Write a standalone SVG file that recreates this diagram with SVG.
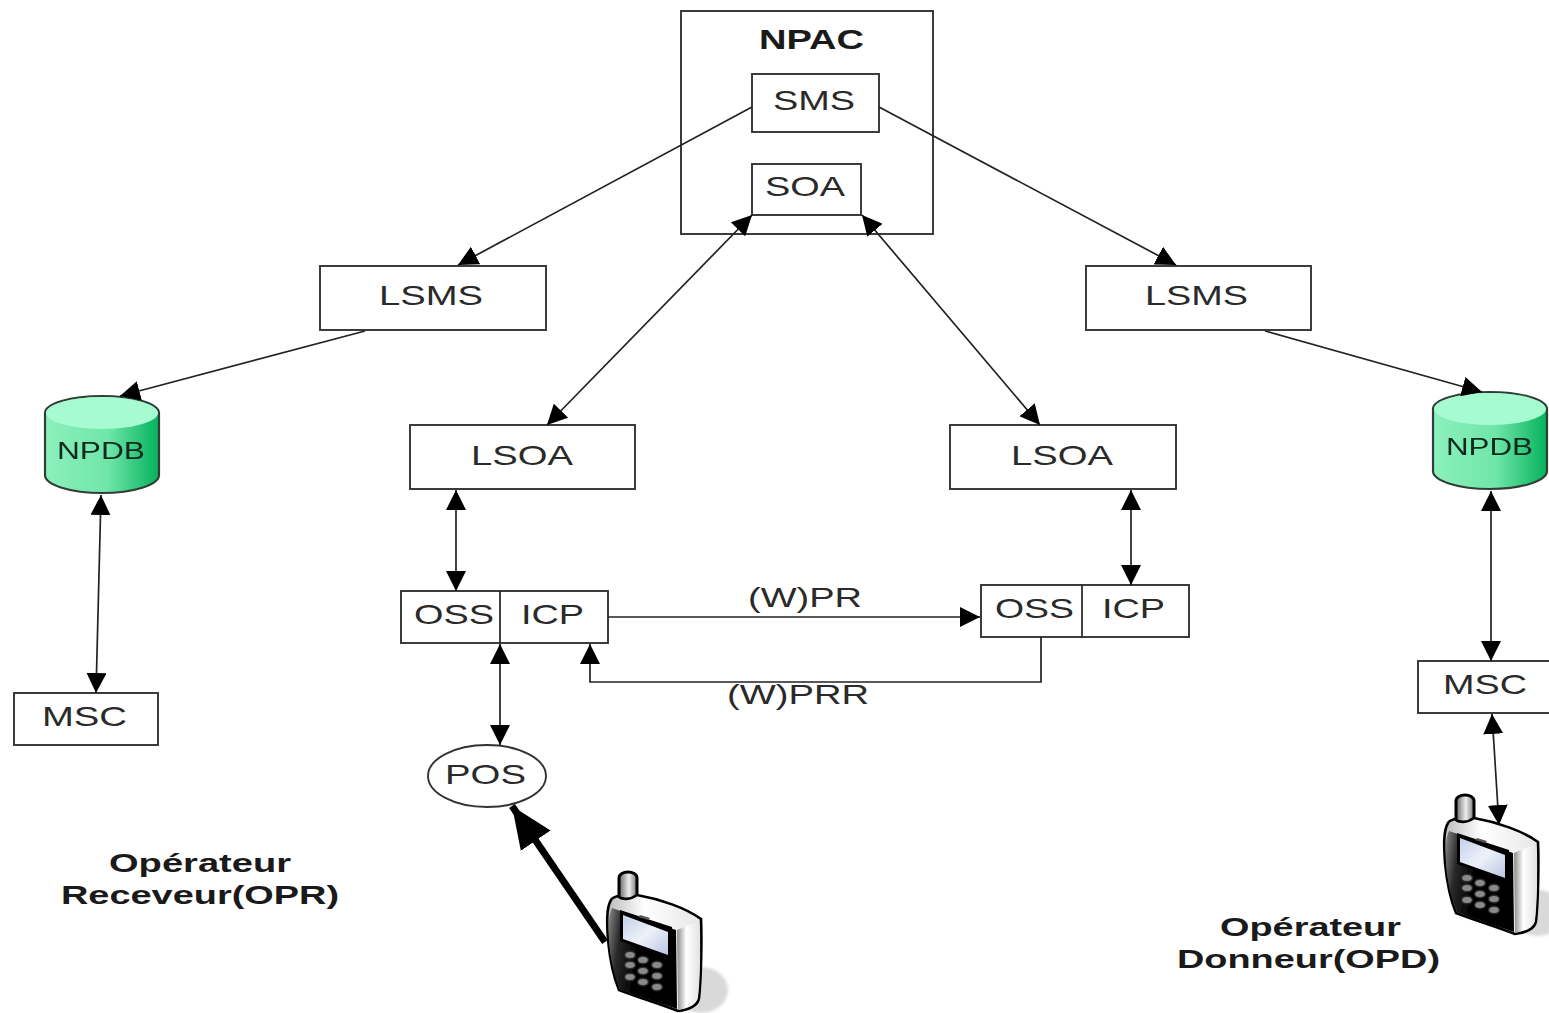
<svg xmlns="http://www.w3.org/2000/svg" width="1549" height="1013" viewBox="0 0 1549 1013">
<style>
.box{fill:#fff;stroke:#333;stroke-width:1.9}
.t{font-family:"Liberation Sans",Arial,sans-serif;font-size:28px;fill:#2a2a2a}
.b{font-family:"Liberation Sans",Arial,sans-serif;font-size:26px;font-weight:bold;fill:#1a1a1a}
.db{font-family:"Liberation Sans",Arial,sans-serif;font-size:24px;fill:#0c2a1c}
.c{fill:none;stroke:#222;stroke-width:1.7}
.cy{stroke:#333d38;stroke-width:2.2}
.soft{filter:url(#soft)}
</style>
<defs>
<filter id="soft" x="-5%" y="-5%" width="110%" height="110%"><feGaussianBlur stdDeviation="0.6"/></filter>
<filter id="shadow" x="-20%" y="-20%" width="140%" height="140%"><feGaussianBlur stdDeviation="1.5"/></filter>
<marker id="a" markerUnits="userSpaceOnUse" markerWidth="22" markerHeight="20" refX="20" refY="10" orient="auto-start-reverse"><path d="M0 0L20 10L0 20Z" fill="#000"/></marker>
<marker id="big" markerUnits="userSpaceOnUse" markerWidth="44" markerHeight="38" refX="42" refY="19" orient="auto"><path d="M0 1L42 19L0 37Z" fill="#000"/></marker>
<linearGradient id="green" x1="0" x2="1" y1="0" y2="0"><stop offset="0" stop-color="#8cf0bd"/><stop offset=".55" stop-color="#70e6a9"/><stop offset="1" stop-color="#05b25c"/></linearGradient>
<linearGradient id="body" x1="0" x2="1" y1="0" y2=".2"><stop offset="0" stop-color="#8a8a8a"/><stop offset=".2" stop-color="#2a2a2a"/><stop offset=".5" stop-color="#000"/><stop offset="1" stop-color="#000"/></linearGradient>
<linearGradient id="side" x1="0" x2="1" y1="0" y2="0"><stop offset="0" stop-color="#8a8a8a"/><stop offset=".4" stop-color="#fff"/><stop offset="1" stop-color="#e2e2e2"/></linearGradient>
<linearGradient id="top" x1="0" x2="1" y1="0" y2="0"><stop offset="0" stop-color="#bbb"/><stop offset=".4" stop-color="#fff"/><stop offset="1" stop-color="#e6e6e6"/></linearGradient>
<linearGradient id="ant" x1="0" x2="1" y1="0" y2="0"><stop offset="0" stop-color="#666"/><stop offset=".55" stop-color="#eee"/><stop offset="1" stop-color="#777"/></linearGradient>
<linearGradient id="scr" x1="0" x2="1" y1="0" y2="1"><stop offset="0" stop-color="#c4d0ea"/><stop offset=".5" stop-color="#eef1f8"/><stop offset="1" stop-color="#b9c6e2"/></linearGradient>
<symbol id="phone" overflow="visible" viewBox="0 0 1549 1013" width="1549" height="1013">
<ellipse cx="701" cy="990" rx="27" ry="23" fill="#d9d9d9" filter="url(#shadow)"/>
<g class="soft">
<path d="M619 878C619 870 637 870 637 878V902H619Z" fill="url(#ant)" stroke="#000" stroke-width="3"/>
<path d="M611 900C606 908 607 925 608 940C610 960 614 978 619 990C640 998 660 1004 678 1011C688 1010 698 1006 699 998C701 980 702 940 701 919C686 908 660 899 637 895C630 900 622 900 618 896C614 897 612 898 611 900Z" fill="url(#top)" stroke="#000" stroke-width="2.6"/>
<path d="M612 908L676 930L677 1009C660 1003 640 997 620 989C614 975 610 958 609 940C608 925 609 914 612 908Z" fill="url(#body)"/>
<path d="M677 930L699 921C701 945 700 980 698 997C697 1004 688 1008 678 1010Z" fill="url(#side)"/>
<path d="M620 910L672 927V958L620 941Z" fill="#000"/>
<path d="M623 915L668 932V955L623 939Z" fill="url(#scr)"/>
<path d="M640 915L650 918L648 920L638 917Z" fill="#555"/>
<g fill="#8a8a8a" stroke="#2a2a2a" stroke-width="1.5">
<ellipse cx="630" cy="955" rx="5.5" ry="3.8"/><ellipse cx="643" cy="960" rx="5.5" ry="3.8"/><ellipse cx="657" cy="965" rx="5.5" ry="3.8"/>
<ellipse cx="630" cy="965" rx="5.5" ry="3.8"/><ellipse cx="643" cy="971" rx="5.5" ry="3.8"/><ellipse cx="657" cy="976" rx="5.5" ry="3.8"/>
<ellipse cx="630" cy="977" rx="5.5" ry="3.8"/><ellipse cx="643" cy="982" rx="5.5" ry="3.8"/><ellipse cx="657" cy="987" rx="5.5" ry="3.8"/>
</g>
</g>
</symbol>
</defs>
<rect width="1549" height="1013" fill="#fff"/>
<g id="npac"><rect class="box" x="681" y="11" width="252" height="223"/><text class="b" x="759" y="49" textLength="105" lengthAdjust="spacingAndGlyphs" style="font-size:28px">NPAC</text></g>
<g id="sms"><rect class="box" x="752" y="74" width="127" height="58"/><text class="t" x="773" y="110" textLength="82" lengthAdjust="spacingAndGlyphs">SMS</text></g>
<g id="soa"><rect class="box" x="752" y="164" width="109" height="51"/><text class="t" x="765" y="196" textLength="80" lengthAdjust="spacingAndGlyphs">SOA</text></g>
<g id="lsms-left"><rect class="box" x="320" y="266" width="226" height="64"/><text class="t" x="379" y="305" textLength="104" lengthAdjust="spacingAndGlyphs">LSMS</text></g>
<g id="lsms-right"><rect class="box" x="1086" y="266" width="225" height="64"/><text class="t" x="1145" y="305" textLength="103" lengthAdjust="spacingAndGlyphs">LSMS</text></g>
<g id="lsoa-left"><rect class="box" x="410" y="425" width="225" height="64"/><text class="t" x="471" y="465" textLength="102" lengthAdjust="spacingAndGlyphs">LSOA</text></g>
<g id="lsoa-right"><rect class="box" x="950" y="425" width="226" height="64"/><text class="t" x="1011" y="465" textLength="102" lengthAdjust="spacingAndGlyphs">LSOA</text></g>
<g id="oss-icp-left"><rect class="box" x="401" y="591" width="207" height="52"/><path class="c" d="M500 591V643"/><text class="t" x="414" y="624" textLength="80" lengthAdjust="spacingAndGlyphs">OSS</text><text class="t" x="521" y="624" textLength="63" lengthAdjust="spacingAndGlyphs">ICP</text></g>
<g id="oss-icp-right"><rect class="box" x="981" y="585" width="208" height="52"/><path class="c" d="M1082 585V637"/><text class="t" x="995" y="618" textLength="79" lengthAdjust="spacingAndGlyphs">OSS</text><text class="t" x="1102" y="618" textLength="63" lengthAdjust="spacingAndGlyphs">ICP</text></g>
<g id="msc-left"><rect class="box" x="14" y="693" width="144" height="52"/><text class="t" x="42" y="726" textLength="85" lengthAdjust="spacingAndGlyphs">MSC</text></g>
<g id="msc-right"><rect class="box" x="1418" y="661" width="140" height="52"/><text class="t" x="1443" y="694" textLength="84" lengthAdjust="spacingAndGlyphs">MSC</text></g>
<g id="pos"><ellipse class="box" cx="487" cy="776" rx="59" ry="31"/><text class="t" x="445" y="784" textLength="81" lengthAdjust="spacingAndGlyphs">POS</text></g>
<g id="npdb-left" class="soft"><path class="cy" fill="url(#green)" d="M45 413A57 17 0 0 1 159 413V475A57 18 0 0 1 45 475Z"/><path fill="#a6fbd0" d="M46 413A56 16 0 0 1 158 413A56 16 0 0 1 46 413Z"/><text class="db" x="57" y="459" textLength="88" lengthAdjust="spacingAndGlyphs">NPDB</text></g>
<g id="npdb-right" class="soft"><path class="cy" fill="url(#green)" d="M1433 409A57 17 0 0 1 1547 409V471A57 18 0 0 1 1433 471Z"/><path fill="#a6fbd0" d="M1434 409A56 16 0 0 1 1546 409A56 16 0 0 1 1434 409Z"/><text class="db" x="1446" y="455" textLength="87" lengthAdjust="spacingAndGlyphs">NPDB</text></g>
<g id="phone-left"><use href="#phone"/></g>
<g id="phone-right"><use href="#phone" x="837" y="-77"/></g>
<g id="connectors">
<path class="c" marker-end="url(#a)" d="M752 107L458 265"/>
<path class="c" marker-end="url(#a)" d="M879 107L1176 265"/>
<path class="c" marker-start="url(#a)" marker-end="url(#a)" d="M752 215L547 425"/>
<path class="c" marker-start="url(#a)" marker-end="url(#a)" d="M862 215L1040 425"/>
<path class="c" marker-end="url(#a)" d="M365 331L120 396"/>
<path class="c" marker-end="url(#a)" d="M1265 331L1482 392"/>
<path class="c" marker-start="url(#a)" marker-end="url(#a)" d="M101 495L96 693"/>
<path class="c" marker-start="url(#a)" marker-end="url(#a)" d="M1491 491V661"/>
<path class="c" marker-start="url(#a)" marker-end="url(#a)" d="M456 490V591"/>
<path class="c" marker-start="url(#a)" marker-end="url(#a)" d="M1131 490V585"/>
<path class="c" marker-start="url(#a)" marker-end="url(#a)" d="M500 644V745"/>
<path class="c" marker-end="url(#a)" d="M608 617H980"/>
<path class="c" marker-end="url(#a)" d="M1041 637V682H590V644"/>
<path class="c" marker-start="url(#a)" marker-end="url(#a)" d="M1492 714L1499 825"/>
<path fill="none" stroke="#000" stroke-width="7" marker-end="url(#big)" d="M605 942L512 806"/>
</g>
<g id="labels">
<text class="t" x="748" y="607" textLength="114" lengthAdjust="spacingAndGlyphs">(W)PR</text>
<text class="t" x="727" y="704" textLength="142" lengthAdjust="spacingAndGlyphs">(W)PRR</text>
<text class="b" x="109" y="872" textLength="182" lengthAdjust="spacingAndGlyphs">Opérateur</text>
<text class="b" x="61" y="904" textLength="278" lengthAdjust="spacingAndGlyphs">Receveur(OPR)</text>
<text class="b" x="1220" y="936" textLength="181" lengthAdjust="spacingAndGlyphs">Opérateur</text>
<text class="b" x="1177" y="968" textLength="263" lengthAdjust="spacingAndGlyphs">Donneur(OPD)</text>
</g>
</svg>
